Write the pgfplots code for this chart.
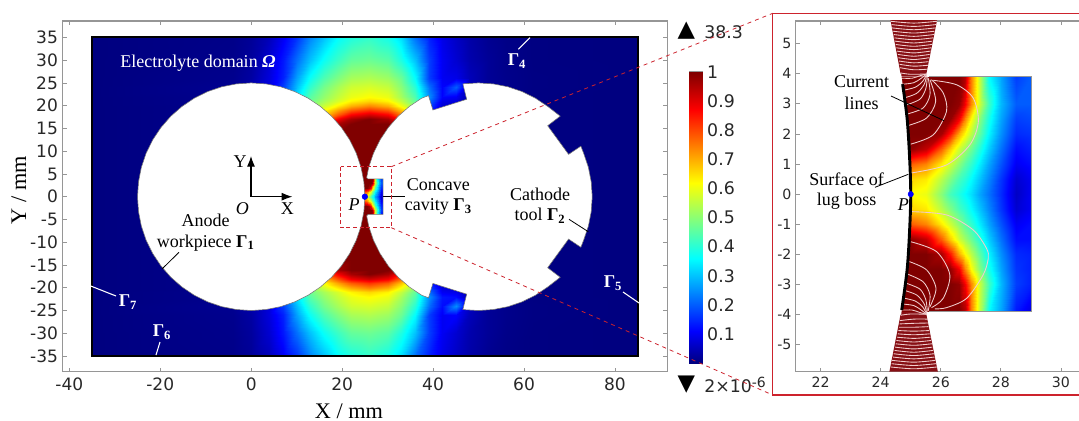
\documentclass[border=0pt]{standalone}
\usepackage{fontspec}
\setmainfont{Liberation Serif}
\newfontfamily\tickfont{DejaVu Sans}
\usepackage{pgfplots}
\pgfplotsset{compat=1.18}
\usetikzlibrary{arrows.meta}
\definecolor{axgray}{RGB}{150,150,150}
\definecolor{txtgray}{RGB}{40,40,40}
\definecolor{zoomred}{RGB}{205,35,45}
\definecolor{linepink}{RGB}{240,205,205}
\pgfplotsset{
  colormap={cjet}{rgb(0cm)=(0,0,.5); rgb(1.1cm)=(0,0,1); rgb(3.6cm)=(0,1,1); rgb(6.2cm)=(1,1,0); rgb(8.7cm)=(1,0,0); rgb(10cm)=(.5,0,0)},
  panel/.style={scale only axis, anchor=south west, axis line style={axgray,line width=.8pt},
    tick style={axgray,line width=.6pt}, tick align=inside, major tick length=3pt,
    /pgf/number format/assume math mode=true},
  heat/.style={surf, shader=interp, point meta=explicit, forget plot},
  curr/.style={linepink, line width=.65pt, smooth, forget plot},
}
\begin{document}
\begin{tikzpicture}
\useasboundingbox (0,0) rectangle (809.25pt,-315.75pt);
% ---------- main axis
\begin{axis}[panel, at={(46.875pt,-278.625pt)}, width=453.6pt, height=262.875pt,
  xmin=-41.5, xmax=91.51, ymin=-38.4, ymax=38.6,
  xtick={-40,-20,0,20,40,60,80}, ytick={-35,-30,...,35},
  point meta min=0, point meta max=1, colormap name=cjet,
  tick label style={font=\tickfont\fontsize{12.8}{14}\selectfont, text=txtgray},
  yticklabel style={inner sep=0pt, xshift=-3.2pt},
  xticklabel style={inner sep=0pt, yshift=-4.5pt},
]
\addplot[heat, mesh/cols=22] coordinates {
(-35,35)[0] (-4,35)[.008] (0,35)[.02] (4,35)[.05] (7,35)[.1] (10,35)[.16] (13,35)[.24] (16,35)[.3] (19,35)[.36] (22,35)[.39] (26,35)[.41] (30,35)[.38] (33,35)[.33] (36,35)[.22] (39,35)[.14] (42,35)[.09] (45,35)[.06] (48,35)[.035] (52,35)[.015] (56,35)[.006] (62,35)[.002] (85,35)[0]
(-35,30)[0] (-4,30)[.01] (0,30)[.025] (4,30)[.07] (7,30)[.13] (10,30)[.22] (13,30)[.3] (16,30)[.37] (19,30)[.42] (22,30)[.46] (26,30)[.47] (30,30)[.45] (33,30)[.39] (36,30)[.3] (39,30)[.17] (42,30)[.1] (45,30)[.07] (48,30)[.04] (52,30)[.02] (56,30)[.008] (62,30)[.002] (85,30)[0]
(-35,26)[0] (-4,26)[.012] (0,26)[.03] (4,26)[.08] (7,26)[.14] (10,26)[.27] (13,26)[.37] (16,26)[.44] (19,26)[.49] (22,26)[.53] (26,26)[.54] (30,26)[.52] (33,26)[.47] (36,26)[.36] (39,26)[.17] (42,26)[.1] (45,26)[.09] (48,26)[.05] (52,26)[.02] (56,26)[.01] (62,26)[.003] (85,26)[0]
(-35,24)[0] (-4,24)[.015] (0,24)[.04] (4,24)[.08] (7,24)[.17] (10,24)[.3] (13,24)[.41] (16,24)[.48] (19,24)[.53] (22,24)[.57] (26,24)[.58] (30,24)[.56] (33,24)[.5] (36,24)[.4] (39,24)[.22] (42,24)[.11] (45,24)[.2] (48,24)[.05] (52,24)[.02] (56,24)[.01] (62,24)[.003] (85,24)[0]
(-35,22)[0] (-4,22)[.012] (0,22)[.03] (4,22)[.08] (7,22)[.18] (10,22)[.34] (13,22)[.45] (16,22)[.51] (19,22)[.56] (22,22)[.6] (26,22)[.62] (30,22)[.6] (33,22)[.53] (36,22)[.44] (39,22)[.25] (42,22)[.11] (45,22)[.1] (48,22)[.03] (52,22)[.015] (56,22)[.008] (62,22)[.002] (85,22)[0]
(-35,21)[0] (-4,21)[.012] (0,21)[.03] (4,21)[.08] (7,21)[.18] (10,21)[.36] (13,21)[.47] (16,21)[.53] (19,21)[.58] (22,21)[.63] (26,21)[.66] (30,21)[.63] (33,21)[.56] (36,21)[.46] (39,21)[.22] (42,21)[.09] (45,21)[.08] (48,21)[.03] (52,21)[.015] (56,21)[.008] (62,21)[.002] (85,21)[0]
(-35,20)[0] (-4,20)[.01] (0,20)[.03] (4,20)[.08] (7,20)[.18] (10,20)[.38] (13,20)[.5] (16,20)[.57] (19,20)[.64] (22,20)[.7] (26,20)[.74] (30,20)[.7] (33,20)[.61] (36,20)[.5] (39,20)[.18] (42,20)[.07] (45,20)[.06] (48,20)[.02] (52,20)[.01] (56,20)[.005] (62,20)[.002] (85,20)[0]
(-35,19)[0] (-4,19)[.01] (0,19)[.03] (4,19)[.08] (7,19)[.18] (10,19)[.4] (13,19)[.55] (16,19)[.62] (19,19)[.71] (22,19)[.78] (26,19)[.82] (30,19)[.78] (33,19)[.68] (36,19)[.55] (39,19)[.15] (42,19)[.05] (45,19)[.05] (48,19)[.02] (52,19)[.01] (56,19)[.005] (62,19)[.002] (85,19)[0]
(-35,18)[0] (-4,18)[.01] (0,18)[.03] (4,18)[.08] (7,18)[.18] (10,18)[.4] (13,18)[.58] (16,18)[.68] (19,18)[.79] (22,18)[.88] (26,18)[.92] (30,18)[.88] (33,18)[.76] (36,18)[.6] (39,18)[.1] (42,18)[.05] (45,18)[.04] (48,18)[.02] (52,18)[.01] (56,18)[.005] (62,18)[.002] (85,18)[0]
(-35,17)[0] (-4,17)[.01] (0,17)[.03] (4,17)[.08] (7,17)[.18] (10,17)[.4] (13,17)[.6] (16,17)[.75] (19,17)[.88] (22,17)[.96] (26,17)[1] (30,17)[.96] (33,17)[.85] (36,17)[.65] (39,17)[.1] (42,17)[.05] (45,17)[.04] (48,17)[.02] (52,17)[.01] (56,17)[.005] (62,17)[.002] (85,17)[0]
(-35,16)[0] (-4,16)[.01] (0,16)[.03] (4,16)[.08] (7,16)[.18] (10,16)[.4] (13,16)[.7] (16,16)[.83] (19,16)[.96] (22,16)[1] (26,16)[1] (30,16)[1] (33,16)[.93] (36,16)[.7] (39,16)[.1] (42,16)[.05] (45,16)[.04] (48,16)[.02] (52,16)[.01] (56,16)[.005] (62,16)[.002] (85,16)[0]
(-35,14)[0] (-4,14)[.01] (0,14)[.03] (4,14)[.08] (7,14)[.18] (10,14)[.5] (13,14)[.9] (16,14)[1] (19,14)[1] (22,14)[1] (26,14)[1] (30,14)[1] (33,14)[1] (36,14)[.9] (39,14)[.1] (42,14)[.05] (45,14)[.04] (48,14)[.02] (52,14)[.01] (56,14)[.005] (62,14)[.002] (85,14)[0]
(-35,0)[0] (-4,0)[.01] (0,0)[.02] (4,0)[.08] (7,0)[.18] (10,0)[.5] (13,0)[.9] (16,0)[1] (19,0)[1] (22,0)[1] (26,0)[1] (30,0)[1] (33,0)[1] (36,0)[.9] (39,0)[.1] (42,0)[.05] (45,0)[.04] (48,0)[.02] (52,0)[.01] (56,0)[.005] (62,0)[.002] (85,0)[0]
(-35,-14)[0] (-4,-14)[.01] (0,-14)[.03] (4,-14)[.08] (7,-14)[.18] (10,-14)[.5] (13,-14)[.9] (16,-14)[1] (19,-14)[1] (22,-14)[1] (26,-14)[1] (30,-14)[1] (33,-14)[1] (36,-14)[.9] (39,-14)[.1] (42,-14)[.05] (45,-14)[.04] (48,-14)[.02] (52,-14)[.01] (56,-14)[.005] (62,-14)[.002] (85,-14)[0]
(-35,-16)[0] (-4,-16)[.01] (0,-16)[.03] (4,-16)[.08] (7,-16)[.18] (10,-16)[.4] (13,-16)[.7] (16,-16)[.83] (19,-16)[.96] (22,-16)[1] (26,-16)[1] (30,-16)[1] (33,-16)[.93] (36,-16)[.7] (39,-16)[.1] (42,-16)[.05] (45,-16)[.04] (48,-16)[.02] (52,-16)[.01] (56,-16)[.005] (62,-16)[.002] (85,-16)[0]
(-35,-17)[0] (-4,-17)[.01] (0,-17)[.03] (4,-17)[.08] (7,-17)[.18] (10,-17)[.4] (13,-17)[.6] (16,-17)[.75] (19,-17)[.88] (22,-17)[.96] (26,-17)[1] (30,-17)[.96] (33,-17)[.85] (36,-17)[.65] (39,-17)[.1] (42,-17)[.05] (45,-17)[.04] (48,-17)[.02] (52,-17)[.01] (56,-17)[.005] (62,-17)[.002] (85,-17)[0]
(-35,-18)[0] (-4,-18)[.01] (0,-18)[.03] (4,-18)[.08] (7,-18)[.18] (10,-18)[.4] (13,-18)[.58] (16,-18)[.68] (19,-18)[.79] (22,-18)[.88] (26,-18)[.92] (30,-18)[.88] (33,-18)[.76] (36,-18)[.6] (39,-18)[.1] (42,-18)[.05] (45,-18)[.04] (48,-18)[.02] (52,-18)[.01] (56,-18)[.005] (62,-18)[.002] (85,-18)[0]
(-35,-19)[0] (-4,-19)[.01] (0,-19)[.03] (4,-19)[.08] (7,-19)[.18] (10,-19)[.4] (13,-19)[.55] (16,-19)[.62] (19,-19)[.71] (22,-19)[.78] (26,-19)[.82] (30,-19)[.78] (33,-19)[.68] (36,-19)[.55] (39,-19)[.15] (42,-19)[.06] (45,-19)[.05] (48,-19)[.02] (52,-19)[.01] (56,-19)[.005] (62,-19)[.002] (85,-19)[0]
(-35,-20)[0] (-4,-20)[.01] (0,-20)[.03] (4,-20)[.08] (7,-20)[.18] (10,-20)[.38] (13,-20)[.5] (16,-20)[.57] (19,-20)[.64] (22,-20)[.7] (26,-20)[.74] (30,-20)[.7] (33,-20)[.61] (36,-20)[.5] (39,-20)[.18] (42,-20)[.08] (45,-20)[.07] (48,-20)[.02] (52,-20)[.01] (56,-20)[.005] (62,-20)[.002] (85,-20)[0]
(-35,-21)[0] (-4,-21)[.012] (0,-21)[.03] (4,-21)[.08] (7,-21)[.18] (10,-21)[.36] (13,-21)[.47] (16,-21)[.53] (19,-21)[.58] (22,-21)[.63] (26,-21)[.66] (30,-21)[.63] (33,-21)[.56] (36,-21)[.46] (39,-21)[.22] (42,-21)[.1] (45,-21)[.09] (48,-21)[.03] (52,-21)[.015] (56,-21)[.008] (62,-21)[.002] (85,-21)[0]
(-35,-22)[0] (-4,-22)[.012] (0,-22)[.03] (4,-22)[.08] (7,-22)[.18] (10,-22)[.34] (13,-22)[.45] (16,-22)[.51] (19,-22)[.56] (22,-22)[.6] (26,-22)[.62] (30,-22)[.6] (33,-22)[.53] (36,-22)[.44] (39,-22)[.25] (42,-22)[.13] (45,-22)[.12] (48,-22)[.03] (52,-22)[.015] (56,-22)[.008] (62,-22)[.002] (85,-22)[0]
(-35,-24)[0] (-4,-24)[.015] (0,-24)[.04] (4,-24)[.08] (7,-24)[.17] (10,-24)[.3] (13,-24)[.41] (16,-24)[.48] (19,-24)[.53] (22,-24)[.57] (26,-24)[.58] (30,-24)[.56] (33,-24)[.5] (36,-24)[.4] (39,-24)[.22] (42,-24)[.12] (45,-24)[.25] (48,-24)[.06] (52,-24)[.02] (56,-24)[.01] (62,-24)[.003] (85,-24)[0]
(-35,-26)[0] (-4,-26)[.012] (0,-26)[.03] (4,-26)[.08] (7,-26)[.14] (10,-26)[.27] (13,-26)[.37] (16,-26)[.44] (19,-26)[.49] (22,-26)[.53] (26,-26)[.54] (30,-26)[.52] (33,-26)[.47] (36,-26)[.36] (39,-26)[.17] (42,-26)[.1] (45,-26)[.11] (48,-26)[.05] (52,-26)[.02] (56,-26)[.01] (62,-26)[.003] (85,-26)[0]
(-35,-30)[0] (-4,-30)[.01] (0,-30)[.025] (4,-30)[.07] (7,-30)[.13] (10,-30)[.22] (13,-30)[.3] (16,-30)[.37] (19,-30)[.42] (22,-30)[.46] (26,-30)[.47] (30,-30)[.45] (33,-30)[.39] (36,-30)[.3] (39,-30)[.17] (42,-30)[.1] (45,-30)[.07] (48,-30)[.04] (52,-30)[.02] (56,-30)[.008] (62,-30)[.002] (85,-30)[0]
(-35,-35)[0] (-4,-35)[.008] (0,-35)[.02] (4,-35)[.05] (7,-35)[.1] (10,-35)[.16] (13,-35)[.24] (16,-35)[.3] (19,-35)[.36] (22,-35)[.39] (26,-35)[.41] (30,-35)[.38] (33,-35)[.33] (36,-35)[.22] (39,-35)[.14] (42,-35)[.09] (45,-35)[.06] (48,-35)[.035] (52,-35)[.015] (56,-35)[.006] (62,-35)[.002] (85,-35)[0]
};
% concave cavity field (same readings as the zoomed panel)
\addplot[heat, mesh/cols=13] coordinates {
(24.5,3.9)[1] (25,3.9)[1] (25.5,3.9)[1] (26,3.9)[1] (26.3,3.9)[1] (26.6,3.9)[1] (26.8,3.9)[.95] (27,3.9)[.75] (27.3,3.9)[.55] (27.6,3.9)[.36] (28,3.9)[.27] (28.5,3.9)[.17] (29,3.9)[.2]
(24.5,3)[1] (25,3)[1] (25.5,3)[1] (26,3)[1] (26.3,3)[1] (26.6,3)[.98] (26.8,3)[.88] (27,3)[.74] (27.3,3)[.56] (27.6,3)[.42] (28,3)[.29] (28.5,3)[.2] (29,3)[.2]
(24.5,2)[1] (25,2)[1] (25.5,2)[1] (26,2)[.96] (26.3,2)[.85] (26.6,2)[.7] (26.8,2)[.62] (27,2)[.55] (27.3,2)[.45] (27.6,2)[.35] (28,2)[.25] (28.5,2)[.15] (29,2)[.16]
(24.5,1)[.78] (25,1)[.78] (25.5,1)[.74] (26,1)[.64] (26.3,1)[.57] (26.6,1)[.5] (26.8,1)[.45] (27,1)[.41] (27.3,1)[.34] (27.6,1)[.27] (28,1)[.19] (28.5,1)[.1] (29,1)[.12]
(24.5,0)[.62] (25,0)[.62] (25.5,0)[.6] (26,0)[.5] (26.3,0)[.43] (26.6,0)[.39] (26.8,0)[.36] (27,0)[.33] (27.3,0)[.27] (27.6,0)[.22] (28,0)[.15] (28.5,0)[.06] (29,0)[.1]
(24.5,-1)[.78] (25,-1)[.78] (25.5,-1)[.74] (26,-1)[.64] (26.3,-1)[.57] (26.6,-1)[.5] (26.8,-1)[.45] (27,-1)[.41] (27.3,-1)[.34] (27.6,-1)[.27] (28,-1)[.19] (28.5,-1)[.1] (29,-1)[.12]
(24.5,-2)[1] (25,-2)[1] (25.5,-2)[1] (26,-2)[.96] (26.3,-2)[.85] (26.6,-2)[.7] (26.8,-2)[.62] (27,-2)[.55] (27.3,-2)[.45] (27.6,-2)[.35] (28,-2)[.25] (28.5,-2)[.15] (29,-2)[.14]
(24.5,-3)[1] (25,-3)[1] (25.5,-3)[1] (26,-3)[1] (26.3,-3)[1] (26.6,-3)[.98] (26.8,-3)[.88] (27,-3)[.74] (27.3,-3)[.56] (27.6,-3)[.42] (28,-3)[.29] (28.5,-3)[.17] (29,-3)[.14]
(24.5,-3.9)[1] (25,-3.9)[1] (25.5,-3.9)[1] (26,-3.9)[1] (26.3,-3.9)[1] (26.6,-3.9)[1] (26.8,-3.9)[.95] (27,-3.9)[.75] (27.3,-3.9)[.55] (27.6,-3.9)[.36] (28,-3.9)[.27] (28.5,-3.9)[.13] (29,-3.9)[.08]
};
% anode
\addplot[fill=white, draw=black!55, line width=.4pt, forget plot] coordinates {
(25,0)(24.78,3.26)(24.15,6.47)(23.1,9.57)(21.65,12.5)(19.83,15.22)(17.68,17.68)(15.22,19.83)(12.5,21.65)(9.57,23.1)(6.47,24.15)(3.26,24.78)(0,25)(-3.26,24.78)(-6.47,24.15)(-9.57,23.1)(-12.5,21.65)(-15.22,19.83)(-17.68,17.68)(-19.83,15.22)(-21.65,12.5)(-23.1,9.57)(-24.15,6.47)(-24.78,3.26)(-25,0)(-24.78,-3.26)(-24.15,-6.47)(-23.1,-9.57)(-21.65,-12.5)(-19.83,-15.22)(-17.68,-17.68)(-15.22,-19.83)(-12.5,-21.65)(-9.57,-23.1)(-6.47,-24.15)(-3.26,-24.78)(0,-25)(3.26,-24.78)(6.47,-24.15)(9.57,-23.1)(12.5,-21.65)(15.22,-19.83)(17.68,-17.68)(19.83,-15.22)(21.65,-12.5)(23.1,-9.57)(24.15,-6.47)(24.78,-3.26)
} -- cycle;
% cathode
\addplot[fill=white, draw=black!55, line width=.4pt, forget plot] coordinates {
(25.7,3.9)(25.4,4.2)(25.85,6.47)(26.9,9.57)(28.35,12.5)(30.17,15.22)(32.32,17.68)(34.78,19.83)(37.5,21.65)(39,22.2)(39.96,19.05)(47.4,21.4)(46.55,24.8)(50,25)(53.26,24.78)(56.47,24.15)(59.57,23.1)(62.5,21.65)(65.22,19.83)(67.96,17.7)(65.2,15.6)(69.8,9.3)(72.5,11.1)(73.1,9.57)(74.15,6.47)(74.78,3.26)(75,0)(74.78,-3.26)(74.15,-6.47)(73.1,-9.57)(72.5,-11.1)(69.8,-9.3)(65.2,-15.6)(67.96,-17.7)(65.22,-19.83)(62.5,-21.65)(59.57,-23.1)(56.47,-24.15)(53.26,-24.78)(50,-25)(46.55,-24.8)(47.4,-21.4)(39.96,-19.05)(39,-22.2)(37.5,-21.65)(34.78,-19.83)(32.32,-17.68)(30.17,-15.22)(28.35,-12.5)(26.9,-9.57)(25.85,-6.47)(25.4,-4.2)(25.7,-3.9)(29,-3.9)(29,3.9)
} -- cycle;
% electrolyte boundary
\addplot[black, line width=1.6pt, forget plot] coordinates {(-35,-35)(85,-35)(85,35)(-35,35)} -- cycle;
\addplot[only marks, mark=*, mark size=2.1pt, mark options={fill=blue,draw=blue}, forget plot] coordinates {(25,0)};
\end{axis}
% ---------- colour scale
\begin{axis}[panel, at={(516.975pt,-272.25pt)}, width=10.05pt, height=218.25pt,
  xmin=0, xmax=1, ymin=0, ymax=1, xtick=\empty, axis y line*=right,
  ytick={.1,.2,.3,.4,.5,.6,.7,.8,.9,1}, yticklabels={0.1,0.2,0.3,0.4,0.5,0.6,0.7,0.8,0.9,1},
  point meta min=0, point meta max=1, colormap name=cjet,
  tick style={black!60,line width=.5pt}, major tick length=2pt,
  tick label style={font=\tickfont\fontsize{13}{14}\selectfont, text=txtgray},
  yticklabel style={inner sep=0pt, xshift=3.2pt},
]
\addplot[heat, mesh/cols=2] coordinates {(0,0)[0] (1,0)[0] (0,.5)[.5] (1,.5)[.5] (0,1)[1] (1,1)[1]};
\end{axis}
% ---------- zoomed panel
\begin{axis}[panel, at={(596.775pt,-278.625pt)}, width=216.975pt, height=262.875pt,
  xmin=21.17, xmax=30.8, ymin=-5.89, ymax=5.75,
  xtick={22,24,...,30}, ytick={-5,-4,...,5},
  point meta min=0, point meta max=1, colormap name=cjet,
  tick label style={font=\tickfont\fontsize{10.6}{12}\selectfont, text=txtgray},
  yticklabel style={inner sep=0pt, xshift=-3pt},
  xticklabel style={inner sep=0pt, yshift=-4pt},
]
\addplot[fill={rgb,255:red,135;green,15;blue,20}, draw=none, forget plot] coordinates {(24.68,3.9)(24.32,5.8)(25.88,5.8)(25.5,3.9)} -- cycle;
\addplot[fill={rgb,255:red,135;green,15;blue,20}, draw=none, forget plot] coordinates {(24.68,-3.9)(24.29,-5.89)(25.9,-5.89)(25.5,-3.9)} -- cycle;
\addplot[heat, mesh/cols=13] coordinates {
(24.5,3.9)[1] (25,3.9)[1] (25.5,3.9)[1] (26,3.9)[1] (26.3,3.9)[1] (26.6,3.9)[1] (26.8,3.9)[.95] (27,3.9)[.75] (27.3,3.9)[.55] (27.6,3.9)[.36] (28,3.9)[.27] (28.5,3.9)[.17] (29,3.9)[.2]
(24.5,3)[1] (25,3)[1] (25.5,3)[1] (26,3)[1] (26.3,3)[1] (26.6,3)[.98] (26.8,3)[.88] (27,3)[.74] (27.3,3)[.56] (27.6,3)[.42] (28,3)[.29] (28.5,3)[.2] (29,3)[.2]
(24.5,2.5)[1] (25,2.5)[1] (25.5,2.5)[1] (26,2.5)[1] (26.3,2.5)[.98] (26.6,2.5)[.88] (26.8,2.5)[.74] (27,2.5)[.62] (27.3,2.5)[.49] (27.6,2.5)[.38] (28,2.5)[.27] (28.5,2.5)[.17] (29,2.5)[.18]
(24.5,2)[1] (25,2)[1] (25.5,2)[1] (26,2)[.96] (26.3,2)[.85] (26.6,2)[.7] (26.8,2)[.62] (27,2)[.55] (27.3,2)[.45] (27.6,2)[.35] (28,2)[.25] (28.5,2)[.15] (29,2)[.16]
(24.5,1.5)[.98] (25,1.5)[.98] (25.5,1.5)[.93] (26,1.5)[.78] (26.3,1.5)[.67] (26.6,1.5)[.57] (26.8,1.5)[.52] (27,1.5)[.47] (27.3,1.5)[.39] (27.6,1.5)[.31] (28,1.5)[.22] (28.5,1.5)[.12] (29,1.5)[.14]
(24.5,1)[.78] (25,1)[.78] (25.5,1)[.74] (26,1)[.64] (26.3,1)[.57] (26.6,1)[.5] (26.8,1)[.45] (27,1)[.41] (27.3,1)[.34] (27.6,1)[.27] (28,1)[.19] (28.5,1)[.1] (29,1)[.12]
(24.5,.5)[.66] (25,.5)[.66] (25.5,.5)[.64] (26,.5)[.55] (26.3,.5)[.49] (26.6,.5)[.43] (26.8,.5)[.4] (27,.5)[.36] (27.3,.5)[.3] (27.6,.5)[.24] (28,.5)[.16] (28.5,.5)[.07] (29,.5)[.1]
(24.5,0)[.62] (25,0)[.62] (25.5,0)[.6] (26,0)[.5] (26.3,0)[.43] (26.6,0)[.39] (26.8,0)[.36] (27,0)[.33] (27.3,0)[.27] (27.6,0)[.22] (28,0)[.15] (28.5,0)[.06] (29,0)[.1]
(24.5,-.5)[.66] (25,-.5)[.66] (25.5,-.5)[.64] (26,-.5)[.55] (26.3,-.5)[.49] (26.6,-.5)[.43] (26.8,-.5)[.4] (27,-.5)[.36] (27.3,-.5)[.3] (27.6,-.5)[.24] (28,-.5)[.16] (28.5,-.5)[.07] (29,-.5)[.1]
(24.5,-1)[.78] (25,-1)[.78] (25.5,-1)[.74] (26,-1)[.64] (26.3,-1)[.57] (26.6,-1)[.5] (26.8,-1)[.45] (27,-1)[.41] (27.3,-1)[.34] (27.6,-1)[.27] (28,-1)[.19] (28.5,-1)[.1] (29,-1)[.12]
(24.5,-1.5)[.98] (25,-1.5)[.98] (25.5,-1.5)[.93] (26,-1.5)[.78] (26.3,-1.5)[.67] (26.6,-1.5)[.57] (26.8,-1.5)[.52] (27,-1.5)[.47] (27.3,-1.5)[.39] (27.6,-1.5)[.31] (28,-1.5)[.22] (28.5,-1.5)[.12] (29,-1.5)[.12]
(24.5,-2)[1] (25,-2)[1] (25.5,-2)[1] (26,-2)[.96] (26.3,-2)[.85] (26.6,-2)[.7] (26.8,-2)[.62] (27,-2)[.55] (27.3,-2)[.45] (27.6,-2)[.35] (28,-2)[.25] (28.5,-2)[.15] (29,-2)[.14]
(24.5,-2.5)[1] (25,-2.5)[1] (25.5,-2.5)[1] (26,-2.5)[1] (26.3,-2.5)[.98] (26.6,-2.5)[.88] (26.8,-2.5)[.74] (27,-2.5)[.62] (27.3,-2.5)[.49] (27.6,-2.5)[.38] (28,-2.5)[.27] (28.5,-2.5)[.16] (29,-2.5)[.14]
(24.5,-3)[1] (25,-3)[1] (25.5,-3)[1] (26,-3)[1] (26.3,-3)[1] (26.6,-3)[.98] (26.8,-3)[.88] (27,-3)[.74] (27.3,-3)[.56] (27.6,-3)[.42] (28,-3)[.29] (28.5,-3)[.17] (29,-3)[.14]
(24.5,-3.9)[1] (25,-3.9)[1] (25.5,-3.9)[1] (26,-3.9)[1] (26.3,-3.9)[1] (26.6,-3.9)[1] (26.8,-3.9)[.95] (27,-3.9)[.75] (27.3,-3.9)[.55] (27.6,-3.9)[.36] (28,-3.9)[.27] (28.5,-3.9)[.13] (29,-3.9)[.08]
};
% white anode side of the field
\addplot[fill=white, draw=none, forget plot] coordinates {(24,4)(24.68,4)(24.82,3)(24.92,2)(24.98,1)(25,0)(24.98,-1)(24.92,-2)(24.82,-3)(24.68,-4)(24,-4)} -- cycle;
% outline of the field rectangle
\addplot[axgray, line width=.6pt, forget plot] coordinates {(25.6,3.9)(29,3.9)(29,-3.9)(25.6,-3.9)};
% current lines, upper half
\addplot[curr] coordinates {(25,.7)(26.19,.97)(26.97,1.64)(27.25,2.41)(27.08,3.19)(26.53,3.63)(25.75,3.78)};
\addplot[curr] coordinates {(25,1.66)(25.75,1.97)(26.19,2.75)(26.08,3.36)(25.69,3.8)};
\addplot[curr] coordinates {(24.92,2.28)(25.53,2.53)(25.83,3.08)(25.64,3.8)};
\addplot[curr] coordinates {(24.88,2.66)(25.41,2.86)(25.64,3.3)(25.58,3.86)};
\addplot[curr] coordinates {(24.82,2.95)(25.3,3.15)(25.5,3.5)(25.55,3.9)};
\addplot[curr] coordinates {(24.8,3.2)(25.2,3.35)(25.45,3.65)(25.53,3.97)};
\addplot[curr] coordinates {(24.76,3.45)(25.15,3.55)(25.4,3.75)(25.53,3.99)};
\addplot[curr] coordinates {(24.73,3.65)(25.1,3.7)(25.35,3.85)(25.53,3.99)};
\addplot[curr] coordinates {(24.7,3.85)(25.05,3.85)(25.3,3.93)(25.53,3.99)};
\addplot[curr] coordinates {(24.68,4.02)(25,3.98)(25.53,3.99)};
\addplot[curr] coordinates {(24.64,4.2)(25.1,4.13)(25.56,4.15)};
\addplot[curr] coordinates {(24.63,4.31)(25.1,4.25)(25.57,4.28)};
\addplot[curr] coordinates {(24.61,4.42)(25.1,4.36)(25.59,4.4)};
\addplot[curr] coordinates {(24.59,4.53)(25.1,4.47)(25.61,4.53)};
\addplot[curr] coordinates {(24.57,4.64)(25.1,4.58)(25.63,4.64)};
\addplot[curr] coordinates {(24.54,4.75)(25.1,4.69)(25.66,4.75)};
\addplot[curr] coordinates {(24.52,4.86)(25.1,4.8)(25.68,4.86)};
\addplot[curr] coordinates {(24.5,4.97)(25.1,4.91)(25.7,4.97)};
\addplot[curr] coordinates {(24.48,5.08)(25.1,5.02)(25.72,5.08)};
\addplot[curr] coordinates {(24.46,5.19)(25.1,5.13)(25.74,5.19)};
\addplot[curr] coordinates {(24.43,5.3)(25.1,5.24)(25.77,5.3)};
\addplot[curr] coordinates {(24.41,5.41)(25.1,5.35)(25.79,5.41)};
\addplot[curr] coordinates {(24.38,5.52)(25.1,5.46)(25.82,5.52)};
\addplot[curr] coordinates {(24.36,5.63)(25.1,5.57)(25.84,5.63)};
\addplot[curr] coordinates {(24.33,5.74)(25.1,5.68)(25.87,5.74)};
% current lines, lower half
\addplot[curr] coordinates {(25,-.58)(26.19,-.69)(27.08,-1.19)(27.52,-1.8)(27.58,-2.13)(27.41,-2.68)(26.86,-3.46)(26.19,-3.77)(25.8,-3.81)};
\addplot[curr] coordinates {(25,-1.58)(25.86,-1.91)(26.3,-2.68)(26.08,-3.46)(25.69,-3.77)};
\addplot[curr] coordinates {(24.95,-2.24)(25.53,-2.52)(25.84,-3.13)(25.64,-3.74)};
\addplot[curr] coordinates {(24.88,-2.65)(25.41,-2.91)(25.64,-3.35)(25.58,-3.88)};
\addplot[curr] coordinates {(24.82,-2.95)(25.3,-3.15)(25.5,-3.5)(25.55,-3.9)};
\addplot[curr] coordinates {(24.8,-3.2)(25.2,-3.35)(25.45,-3.65)(25.53,-3.97)};
\addplot[curr] coordinates {(24.76,-3.45)(25.15,-3.55)(25.4,-3.75)(25.53,-3.99)};
\addplot[curr] coordinates {(24.73,-3.65)(25.1,-3.7)(25.35,-3.85)(25.53,-3.99)};
\addplot[curr] coordinates {(24.7,-3.85)(25.05,-3.85)(25.3,-3.93)(25.53,-3.99)};
\addplot[curr] coordinates {(24.68,-4.02)(25,-3.98)(25.53,-3.99)};
\addplot[curr] coordinates {(24.64,-4.2)(25.1,-4.15)(25.56,-4.15)};
\addplot[curr] coordinates {(24.63,-4.31)(25.1,-4.29)(25.57,-4.28)};
\addplot[curr] coordinates {(24.61,-4.42)(25.1,-4.42)(25.59,-4.4)};
\addplot[curr] coordinates {(24.59,-4.53)(25.1,-4.55)(25.61,-4.53)};
\addplot[curr] coordinates {(24.57,-4.64)(25.1,-4.67)(25.63,-4.64)};
\addplot[curr] coordinates {(24.54,-4.75)(25.1,-4.79)(25.66,-4.75)};
\addplot[curr] coordinates {(24.52,-4.86)(25.1,-4.91)(25.68,-4.86)};
\addplot[curr] coordinates {(24.5,-4.97)(25.1,-5.02)(25.7,-4.97)};
\addplot[curr] coordinates {(24.48,-5.08)(25.1,-5.14)(25.72,-5.08)};
\addplot[curr] coordinates {(24.46,-5.19)(25.1,-5.25)(25.74,-5.19)};
\addplot[curr] coordinates {(24.43,-5.3)(25.1,-5.36)(25.77,-5.3)};
\addplot[curr] coordinates {(24.41,-5.41)(25.1,-5.47)(25.79,-5.41)};
\addplot[curr] coordinates {(24.38,-5.52)(25.1,-5.58)(25.82,-5.52)};
\addplot[curr] coordinates {(24.36,-5.63)(25.1,-5.69)(25.84,-5.63)};
\addplot[curr] coordinates {(24.33,-5.74)(25.1,-5.8)(25.87,-5.74)};
% surface of the lug boss
\addplot[black, line width=2.2pt, smooth, forget plot] coordinates {(24.73,3.65)(24.88,2.5)(24.96,1.25)(25,0)(24.96,-1.25)(24.88,-2.5)(24.7,-3.85)};
\addplot[only marks, mark=*, mark size=2pt, mark options={fill=blue,draw=blue}, forget plot] coordinates {(25,0)};
\end{axis}
% ---------- annotations, in pixel positions of the reference
\begin{scope}[x=0.75pt,y=-0.75pt, every node/.style={inner sep=0pt, font=\fontsize{13.5}{15}\selectfont}]
\node[anchor=west,text=white] at (120,63) {Electrolyte domain \textbf{\textit{Ω}}};
\node[text=white] at (517,61) {\textbf{Γ\textsubscript{4}}};
\node[text=white] at (128,302) {\textbf{Γ\textsubscript{7}}};
\node[text=white] at (162,332) {\textbf{Γ\textsubscript{6}}};
\node[text=white] at (613,283) {\textbf{Γ\textsubscript{5}}};
\draw[white,line width=.8pt] (518.3,49.3)--(530,37.7) (90.7,286)--(116,296) (160,342)--(156,355) (623,292)--(639,303);
\draw[black,line width=.8pt,-{Latex[length=8pt,width=6pt]}] (251,196.7)--(251,156);
\draw[black,line width=.8pt,-{Latex[length=8pt,width=6pt]}] (251,196.7)--(292.3,196.7);
\node at (240,161.7) {Y};
\node at (287.3,209) {X};
\node at (242.3,209) {\textit{O}};
\node at (205.7,220) {Anode};
\node at (205.7,242.7) {workpiece \textbf{Γ\textsubscript{1}}};
\draw[black,line width=.6pt] (179,252.3)--(162.3,268.7);
\node at (438.3,184.3) {Concave};
\node at (438.3,206.7) {cavity \textbf{Γ\textsubscript{3}}};
\draw[black,line width=.6pt] (383.3,196.7)--(405.3,196.7);
\node at (540,194.3) {Cathode};
\node at (540,216) {tool \textbf{Γ\textsubscript{2}}};
\draw[black,line width=.6pt] (569,219.3)--(588.3,231.7);
\node at (354,205) {\textit{P}};
\node at (861.7,81.7) {Current};
\node at (861.7,103.3) {lines};
\draw[black,line width=.6pt] (891,96)--(944,120.7);
\node at (846.7,179) {Surface of};
\node at (846.7,200.7) {lug boss};
\draw[black,line width=.6pt] (875,187.3)--(908.3,174.3);
\node at (903.3,205) {\textit{P}};
\node[font=\fontsize{16.7}{18}\selectfont] at (349,411) {X / mm};
\node[font=\fontsize{16.7}{18}\selectfont,rotate=90] at (19,190) {Y / mm};
\node[font=\tickfont\fontsize{17}{18}\selectfont] at (686.3,30.5) {▲};
\node[font=\tickfont\fontsize{17}{18}\selectfont] at (686.3,385) {▼};
\node[anchor=west,text=txtgray,font=\tickfont\fontsize{13}{14}\selectfont] at (704,31.7) {38.3};
\node[anchor=west,text=txtgray,font=\tickfont\fontsize{13}{14}\selectfont] at (704,385) {2×10\textsuperscript{\fontsize{10.5}{11}\selectfont -6}};
% zoom connection
\draw[zoomred,densely dashed,line width=.6pt] (340.7,166.7) rectangle (391.3,227.7);
\draw[zoomred,dashed,line width=.6pt] (391.3,166.7)--(772.7,13.3) (391.3,227.7)--(772.7,395);
\draw[zoomred,line width=.8pt] (1085,13.3)--(772.7,13.3)--(772.7,395)--(1085,395);
\end{scope}
\end{tikzpicture}
\end{document}
